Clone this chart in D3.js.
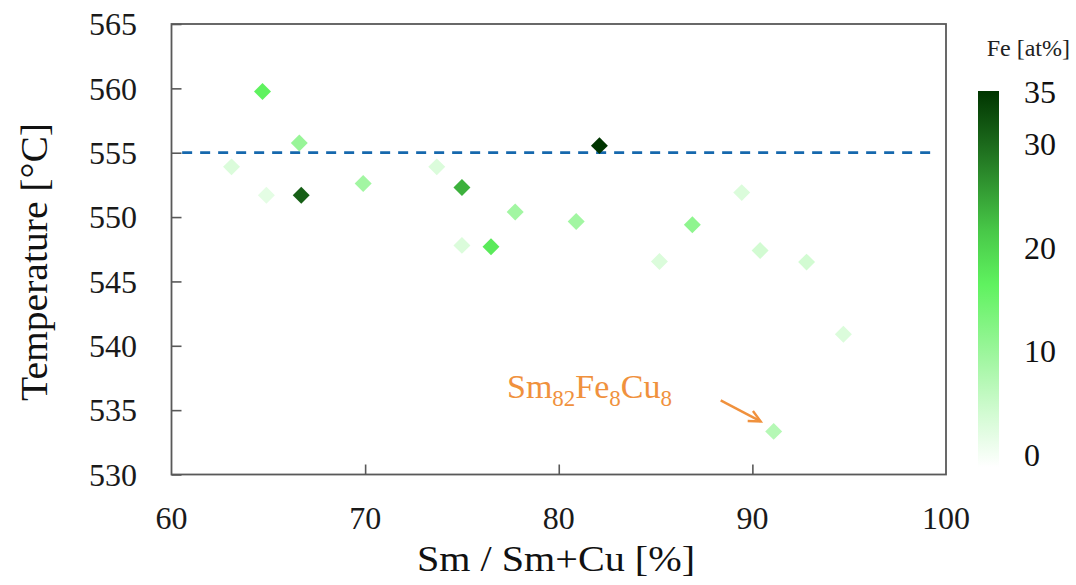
<!DOCTYPE html>
<html>
<head>
<meta charset="utf-8">
<script src="https://cdn.jsdelivr.net/npm/d3@7"></script>
<style>
  html, body { margin: 0; padding: 0; background: #ffffff; }
  svg text { font-family: "Liberation Serif", Tinos, "Times New Roman", Times, "DejaVu Serif", serif; }
</style>
</head>
<body>
<svg id="chart" width="1076" height="585"></svg>
<script>
// Sm/(Sm+Cu) ratio [%], transition temperature [°C] and Fe content [at%] per alloy
const smRatio = [63.1, 64.7, 64.9, 66.6, 66.7, 69.9, 73.7, 75.0, 75.0, 76.5, 77.75, 80.9, 82.1, 85.2, 86.9, 89.45, 90.4, 92.8, 94.7, 91.1];
const temperature = [553.9, 559.75, 551.7, 555.75, 551.7, 552.6, 553.9, 552.3, 547.8, 547.7, 550.4, 549.65, 555.55, 546.55, 549.4, 551.9, 547.4, 546.5, 540.9, 533.35];
const feContent = [4, 17, 3, 11, 31, 10, 4, 24, 4, 18, 10, 10, 35, 4, 12, 4, 5, 5, 4, 8];

const xTicks = [60, 70, 80, 90, 100];
const yTicks = [530, 535, 540, 545, 550, 555, 560, 565];
const feTicks = [0, 10, 20, 30, 35];

// colour ramp for Fe content
const feStops = [0, 5, 10, 17, 22, 30, 35];
const feColors = ["#ffffff", "#d2fbd2", "#a2f6a2", "#5ff25f", "#48c848", "#1c6a1c", "#003500"];

// reference temperature line
const refTemp = 555;
const refSpan = [60.55, 99.55];

// annotated alloy
const noteParts = [["Sm", false], ["82", true], ["Fe", false], ["8", true], ["Cu", false], ["8", true]];
const noteIndex = 19;

const FONT = "'Liberation Serif', Tinos, 'Times New Roman', Times, 'DejaVu Serif', serif";

const svg = d3.select("#chart").attr("font-family", FONT);
const plot = { left: 171.5, right: 946, top: 24, bottom: 474.5 };

const x = d3.scaleLinear().domain([60, 100]).range([plot.left, plot.right]);
const y = d3.scaleLinear().domain([530, 565]).range([plot.bottom, plot.top]);
const color = d3.scaleLinear().domain(feStops).range(feColors).interpolate(d3.interpolateRgb);

// frame
svg.append("rect")
  .attr("x", plot.left).attr("y", plot.top)
  .attr("width", plot.right - plot.left).attr("height", plot.bottom - plot.top)
  .attr("fill", "none").attr("stroke", "#595959").attr("stroke-width", 1.8);

// left axis: inward ticks
const yAxis = d3.axisRight(y).tickValues(yTicks).tickSize(10).tickFormat("");
const gy = svg.append("g").attr("transform", `translate(${plot.left},0)`).call(yAxis);
gy.select(".domain").remove();
gy.selectAll(".tick line").attr("stroke", "#595959").attr("stroke-width", 1.6);

svg.append("g").selectAll("text").data(yTicks).join("text")
  .attr("x", 137).attr("y", d => y(d))
  .attr("dy", "0.35em")
  .attr("text-anchor", "end")
  .attr("font-family", FONT)
  .attr("font-size", 32).attr("fill", "#1a1a1a")
  .text(d => d);

// bottom axis: inward ticks
const xAxis = d3.axisTop(x).tickValues(xTicks.slice(1, -1)).tickSize(10).tickFormat("");
const gx = svg.append("g").attr("transform", `translate(0,${plot.bottom})`).call(xAxis);
gx.select(".domain").remove();
gx.selectAll(".tick line").attr("stroke", "#595959").attr("stroke-width", 1.6);

svg.append("g").selectAll("text").data(xTicks).join("text")
  .attr("x", d => x(d)).attr("y", 529)
  .attr("text-anchor", "middle")
  .attr("font-family", FONT)
  .attr("font-size", 32).attr("fill", "#1a1a1a")
  .text(d => d);

// axis titles
svg.append("text")
  .attr("x", 556).attr("y", 571)
  .attr("text-anchor", "middle")
  .attr("font-family", FONT)
  .attr("font-size", 36).attr("fill", "#111")
  .attr("textLength", 278).attr("lengthAdjust", "spacingAndGlyphs")
  .text("Sm / Sm+Cu [%]");

svg.append("text")
  .attr("transform", "translate(47,262) rotate(-90)")
  .attr("text-anchor", "middle")
  .attr("font-family", FONT)
  .attr("font-size", 38).attr("fill", "#111")
  .attr("textLength", 278).attr("lengthAdjust", "spacingAndGlyphs")
  .text("Temperature [°C]");

// dashed reference line
svg.append("line")
  .attr("x1", x(refSpan[0])).attr("x2", x(refSpan[1]))
  .attr("y1", y(refTemp)).attr("y2", y(refTemp))
  .attr("stroke", "#1668ad").attr("stroke-width", 2.8)
  .attr("stroke-dasharray", "10,8");

// data points as diamonds
const points = smRatio.map((v, i) => ({ x: v, t: temperature[i], fe: feContent[i] }));
const diamond = d3.symbol().type(d3.symbolSquare).size(144);
svg.append("g").selectAll("path").data(points).join("path")
  .attr("d", diamond)
  .attr("transform", d => `translate(${x(d.x)},${y(d.t)}) rotate(45)`)
  .attr("fill", d => color(d.fe));

// annotation for the marked alloy
const noteColor = "#f0913d";
const target = points[noteIndex];
const note = svg.append("text")
  .attr("x", 507).attr("y", 398)
  .attr("font-family", FONT)
  .attr("font-size", 34).attr("fill", noteColor);
noteParts.forEach(([s, sub], i) => {
  note.append("tspan")
    .attr("font-size", sub ? 23 : 34)
    .attr("dy", i === 0 ? 0 : (sub ? 8 : -8))
    .text(s);
});

const tip = [x(target.x) - 13, y(target.t) - 10];
const tail = [tip[0] - 40, tip[1] - 21];
svg.append("line")
  .attr("x1", tail[0]).attr("y1", tail[1])
  .attr("x2", tip[0]).attr("y2", tip[1])
  .attr("stroke", noteColor).attr("stroke-width", 2.4);
const ang = Math.atan2(tip[1] - tail[1], tip[0] - tail[0]);
const headLen = 13, headAng = 0.45;
svg.append("path")
  .attr("d", d3.line()([
    [tip[0] - headLen * Math.cos(ang - headAng), tip[1] - headLen * Math.sin(ang - headAng)],
    tip,
    [tip[0] - headLen * Math.cos(ang + headAng), tip[1] - headLen * Math.sin(ang + headAng)]
  ]))
  .attr("fill", "none").attr("stroke", noteColor).attr("stroke-width", 2.4);

// colour bar
const bar = { x: 978, w: 21, top: 91, bottom: 467 };
const defs = svg.append("defs");
const grad = defs.append("linearGradient").attr("id", "feGrad")
  .attr("x1", 0).attr("y1", 1).attr("x2", 0).attr("y2", 0);
feStops.forEach((s, i) => {
  grad.append("stop").attr("offset", s / 35).attr("stop-color", feColors[i]);
});
svg.append("rect")
  .attr("x", bar.x).attr("y", bar.top)
  .attr("width", bar.w).attr("height", bar.bottom - bar.top)
  .attr("fill", "url(#feGrad)");

const feLabel = d3.scaleLinear().domain([0, 35]).range([455, 92]);
svg.append("g").selectAll("text").data(feTicks).join("text")
  .attr("x", 1024).attr("y", d => feLabel(d))
  .attr("dy", "0.35em")
  .attr("font-family", FONT)
  .attr("font-size", 32).attr("fill", "#111")
  .text(d => d);

svg.append("text")
  .attr("x", 1070).attr("y", 56)
  .attr("text-anchor", "end")
  .attr("font-family", FONT)
  .attr("font-size", 24).attr("fill", "#222")
  .text("Fe [at%]");
</script>
</body>
</html>
